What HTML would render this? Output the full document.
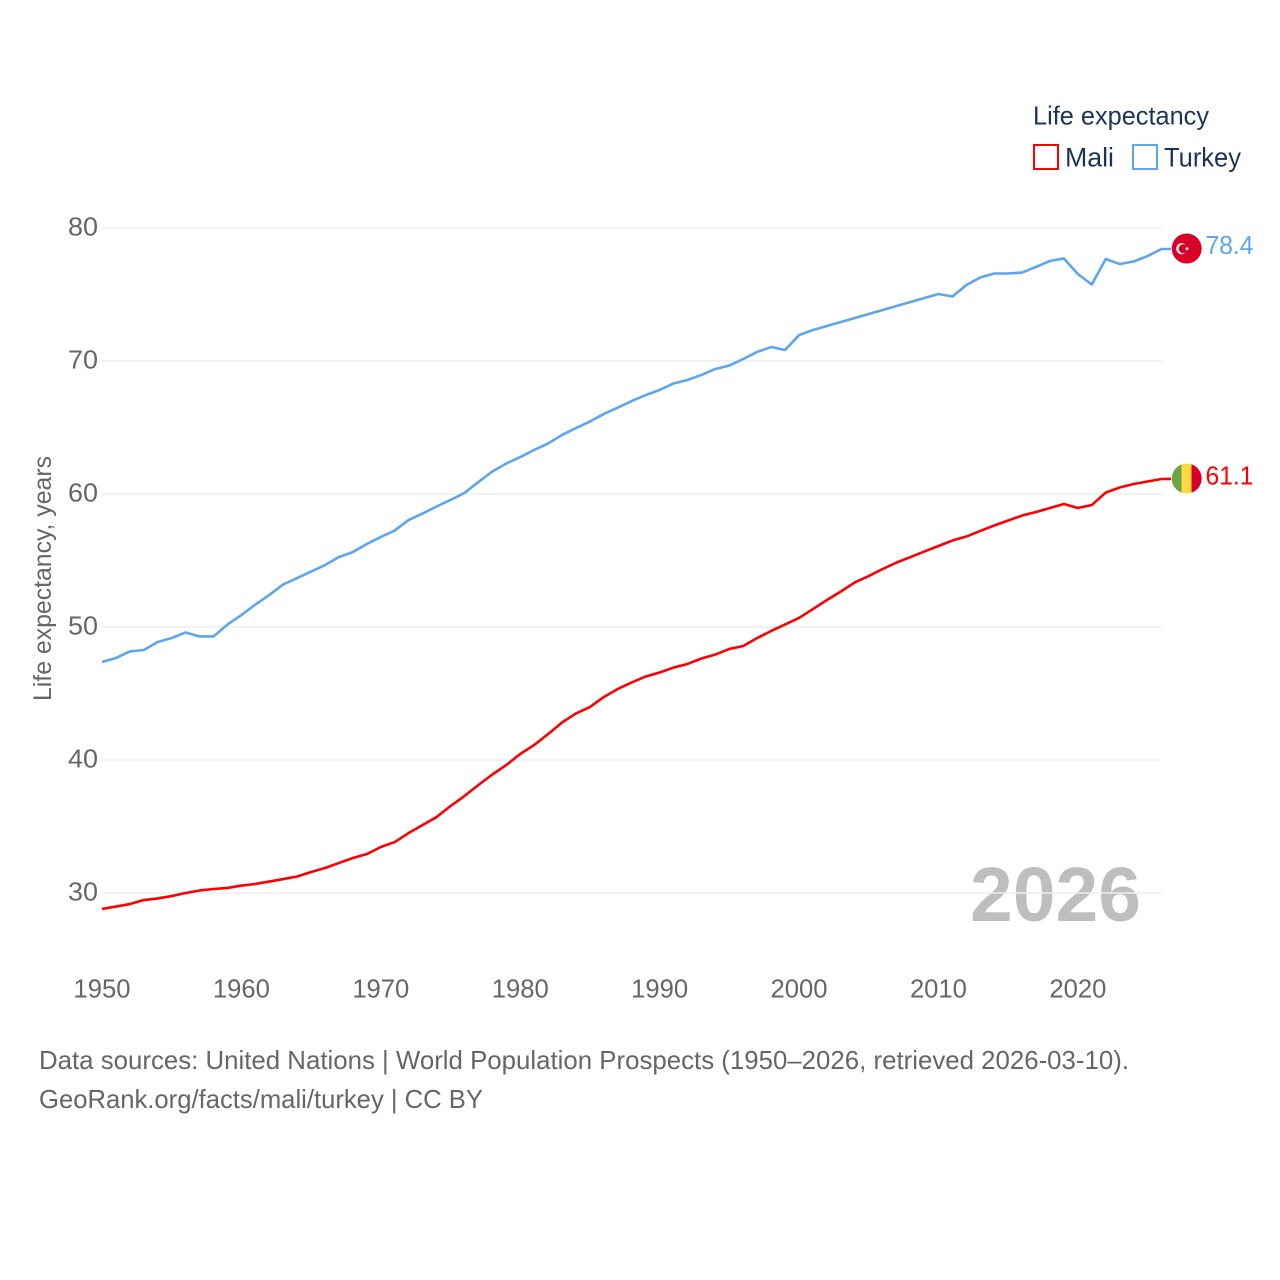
<!DOCTYPE html>
<html lang="en">
<head>
<meta charset="utf-8">
<title>Life expectancy: Mali and Turkey</title>
<style>
html,body{margin:0;padding:0;background:#fff;}
#chart{display:block;width:1280px;height:1280px;font-family:"Liberation Sans",Arial,sans-serif;}
</style>
</head>
<body>
<svg id="chart" xmlns="http://www.w3.org/2000/svg" width="1280" height="1280" viewBox="0 0 1280 1280">
  <rect x="0" y="0" width="1280" height="1280" fill="#ffffff"/>
  <text x="970" y="921" font-size="77" font-weight="700" fill="#000000" fill-opacity="0.255" textLength="171" lengthAdjust="spacingAndGlyphs">2026</text>
  <g id="grid"></g>
  <g id="yticks"></g>
  <g id="xticks"></g>
  <text transform="translate(51 701) rotate(-90)" font-size="25" fill="#666666" textLength="245" lengthAdjust="spacingAndGlyphs">Life expectancy, years</text>
  <g id="series"></g>

  <g>
    <text x="1033" y="124.5" font-size="26" fill="#1c3557" textLength="176" lengthAdjust="spacingAndGlyphs">Life expectancy</text>
    <g>
      <rect x="1034" y="145" width="24" height="24" fill="#ffffff" stroke="#ff0000" stroke-width="2"/>
      <text x="1065" y="166.5" font-size="27" fill="#1c3557" textLength="49" lengthAdjust="spacingAndGlyphs">Mali</text>
    </g>
    <g>
      <rect x="1133" y="145" width="24" height="24" fill="#ffffff" stroke="#5da5ee" stroke-width="2"/>
      <text x="1164" y="166.5" font-size="27" fill="#1c3557" textLength="77" lengthAdjust="spacingAndGlyphs">Turkey</text>
    </g>
  </g>

  <defs>
    <clipPath id="mali-clip"><circle cx="1186.7" cy="478.5" r="15"/></clipPath>
  </defs>
  <g>
    <circle cx="1186.7" cy="248.5" r="15" fill="#d80027"/>
    <circle cx="1181.8" cy="248.7" r="5.6" fill="#f0f0f0"/>
    <circle cx="1183.4" cy="248.7" r="4.6" fill="#d80027"/>
    <circle cx="1187" cy="248.7" r="1.5" fill="#f0f0f0"/>
  </g>
  <g clip-path="url(#mali-clip)">
    <rect x="1171" y="463" width="10.5" height="31" fill="#6da544"/>
    <rect x="1181.5" y="463" width="10" height="31" fill="#ffda44"/>
    <rect x="1191.5" y="463" width="11" height="31" fill="#d80027"/>
  </g>
  <text x="1205.5" y="254" font-size="26" fill="#5da5ee" textLength="48" lengthAdjust="spacingAndGlyphs">78.4</text>
  <text x="1205.5" y="484.5" font-size="26" fill="#ff0000" textLength="48" lengthAdjust="spacingAndGlyphs">61.1</text>

  <text x="39" y="1069" font-size="26" fill="#666666" textLength="1090" lengthAdjust="spacingAndGlyphs">Data sources: United Nations | World Population Prospects (1950–2026, retrieved 2026-03-10).</text>
  <text x="39" y="1108" font-size="26" fill="#666666" textLength="444" lengthAdjust="spacingAndGlyphs">GeoRank.org/facts/mali/turkey | CC BY</text>
</svg>
<script>
const startYear = 1950;
const endYear = 2026;
const yTickValues = [30, 40, 50, 60, 70, 80];
const xTickValues = [1950, 1960, 1970, 1980, 1990, 2000, 2010, 2020];
const maliValues = [
  28.8,28.98,29.17,29.47,29.59,29.77,30,30.19,30.3,30.38,
  30.56,30.68,30.86,31.05,31.24,31.58,31.88,32.26,32.63,32.93,
  33.46,33.83,34.51,35.11,35.71,36.54,37.29,38.12,38.91,39.62,
  40.45,41.13,41.95,42.82,43.5,43.98,44.74,45.34,45.83,46.28,
  46.58,46.95,47.22,47.63,47.93,48.35,48.57,49.17,49.7,50.19,
  50.68,51.35,52.03,52.67,53.35,53.83,54.36,54.85,55.26,55.68,
  56.09,56.5,56.8,57.22,57.63,58.01,58.38,58.65,58.95,59.25,
  58.95,59.17,60.11,60.49,60.75,60.94,61.13
];
const turkeyValues = [
  47.37,47.67,48.16,48.27,48.87,49.17,49.59,49.29,49.29,50.19,
  50.9,51.69,52.41,53.2,53.68,54.17,54.66,55.26,55.64,56.24,
  56.77,57.26,58.05,58.53,59.06,59.55,60.08,60.9,61.69,62.29,
  62.78,63.31,63.8,64.44,64.96,65.45,66.02,66.5,66.99,67.44,
  67.82,68.31,68.57,68.95,69.4,69.66,70.15,70.68,71.05,70.83,
  71.95,72.33,72.63,72.93,73.23,73.53,73.83,74.14,74.44,74.74,
  75.04,74.85,75.71,76.28,76.58,76.58,76.65,77.07,77.52,77.71,
  76.54,75.75,77.67,77.29,77.48,77.89,78.42
];

const NS = 'http://www.w3.org/2000/svg';
const plotLeft = 102;
const plotRight = 1161.5;
const connectorEnd = 1171;
function xScale(year) {
  return plotLeft + (year - startYear) * (plotRight - plotLeft) / (endYear - startYear);
}
function yScale(value) {
  return 228 + (80 - value) * 13.3;
}
function make(tag, parent, attrs) {
  const el = document.createElementNS(NS, tag);
  Object.keys(attrs).forEach(function (k) { el.setAttribute(k, attrs[k]); });
  parent.appendChild(el);
  return el;
}

const gridGroup = document.getElementById('grid');
const yGroup = document.getElementById('yticks');
const xGroup = document.getElementById('xticks');
const seriesGroup = document.getElementById('series');

yTickValues.forEach(function (v) {
  const line = make('line', gridGroup, {
    x1: plotLeft, x2: plotRight, y1: yScale(v), y2: yScale(v),
    stroke: '#eeeeee', 'stroke-width': 1.5
  });
  
  
  const label = make('text', yGroup, {
    x: 98, y: yScale(v) + 7.5, 'font-size': 26, fill: '#666666', 'text-anchor': 'end',
    textLength: 30, lengthAdjust: 'spacingAndGlyphs'
  });
  label.textContent = String(v);
  
  
});

xTickValues.forEach(function (year) {
  const label = make('text', xGroup, {
    x: xScale(year), y: 997.5, 'font-size': 26, fill: '#666666', 'text-anchor': 'middle',
    textLength: 57, lengthAdjust: 'spacingAndGlyphs'
  });
  label.textContent = String(year);
  
  
});

function drawSeries(values, color) {
  const pts = values.map(function (v, i) {
    return xScale(startYear + i).toFixed(2) + ',' + yScale(v).toFixed(2);
  });
  const last = yScale(values[values.length - 1]).toFixed(2);
  pts.push(connectorEnd + ',' + last);
  return make('polyline', seriesGroup, {
    points: pts.join(' '), fill: 'none', stroke: color,
    'stroke-width': 2.6, 'stroke-linejoin': 'round'
  });
}

const maliLine = drawSeries(maliValues, '#ff0000');



const turkeyLine = drawSeries(turkeyValues, '#5da5ee');


</script>
</body>
</html>
